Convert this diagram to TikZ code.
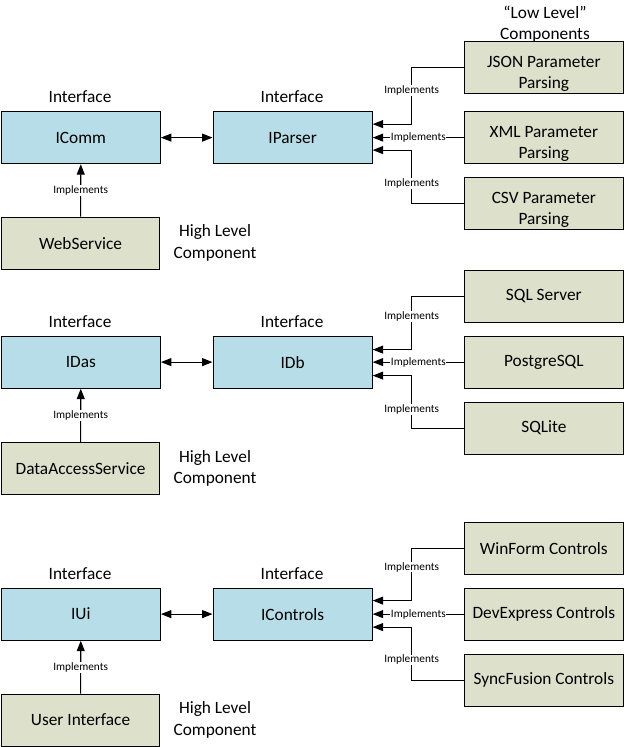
\documentclass[tikz,border=0pt]{standalone}
\usepackage{fontspec}
\setmainfont{Carlito}
\usetikzlibrary{arrows.meta}
\definecolor{ifblue}{RGB}{183,221,232}
\definecolor{compgreen}{RGB}{221,225,204}
\begin{document}
\begin{tikzpicture}[x=1pt,y=-1pt,
  base/.style={draw=black,line width=1.2pt,minimum height=52pt,anchor=north west,
    align=center,inner sep=2pt,font=\fontsize{17.3}{21.5}\selectfont},
  ibox/.style={base,fill=ifblue,minimum width=159pt},
  gbox/.style={base,fill=compgreen,minimum width=158.5pt},
  twoline/.style={text height=45pt},
  hdr/.style={align=center,inner sep=0pt,font=\fontsize{17.3}{21.5}\selectfont},
  lbl/.style={fill=white,inner sep=0.6pt,font=\fontsize{11.3}{13}\selectfont},
  imp/.style={line width=1.1pt,-{Triangle[length=10.5pt,width=8pt]}},
  bi/.style={line width=1.1pt,{Triangle[length=10.5pt,width=8pt]}-{Triangle[length=10.5pt,width=8pt]}}]
\useasboundingbox (0,0) rectangle (624,747);
% ---------- Section 1 ----------
\node[ibox] (icomm) at (0.7,111) {IComm};
\node[ibox] (iparser) at (212.5,111) {IParser};
\node[gbox] (web) at (0.7,216.5) {WebService};
\node[gbox,twoline] (json) at (464,41) {JSON Parameter\\Parsing};
\node[gbox,twoline] (xml) at (464,111) {XML Parameter\\Parsing};
\node[gbox,twoline] (csv) at (464,177) {CSV Parameter\\Parsing};
\node[hdr] (if1a) at (80,96.5) {Interface};
\node[hdr] (if1b) at (292,96.5) {Interface};
\node[hdr] (hl1) at (215,243) {High Level\\Component};
\node[hdr] (ll) at (545,24) {“Low Level”\\Components};
\draw[bi] (icomm.east) -- (iparser.west);
\draw[imp] (web.north) -- node[lbl]{Implements} (icomm.south);
\draw[imp] (json.west) -- ++(-52.3,0) |- node[lbl,pos=0.2]{Implements} ([yshift=13.5pt]iparser.east);
\draw[imp] (xml.west) -- node[lbl]{Implements} (iparser.east);
\draw[imp] (csv.west) -- ++(-52.3,0) |- node[lbl,pos=0.185]{Implements} ([yshift=-12.5pt]iparser.east);
% ---------- Section 2 ----------
\node[ibox] (idas) at (0.7,335.5) {IDas};
\node[ibox] (idb) at (212.5,335.5) {IDb};
\node[gbox] (das) at (0.7,442) {DataAccessService};
\node[gbox] (sqlsrv) at (464,269.5) {SQL Server};
\node[gbox] (pg) at (464,335.5) {PostgreSQL};
\node[gbox] (sqlite) at (464,401.5) {SQLite};
\node[hdr] (if2a) at (80,321.5) {Interface};
\node[hdr] (if2b) at (292,321.5) {Interface};
\node[hdr] (hl2) at (215,468.5) {High Level\\Component};
\draw[bi] (idas.east) -- (idb.west);
\draw[imp] (das.north) -- node[lbl]{Implements} (idas.south);
\draw[imp] (sqlsrv.west) -- ++(-52.3,0) |- node[lbl,pos=0.19]{Implements} ([yshift=12.5pt]idb.east);
\draw[imp] (pg.west) -- node[lbl]{Implements} (idb.east);
\draw[imp] (sqlite.west) -- ++(-52.3,0) |- node[lbl,pos=0.18]{Implements} ([yshift=-13.5pt]idb.east);
% ---------- Section 3 ----------
\node[ibox] (iui) at (0.7,587.5) {IUi};
\node[ibox] (ictl) at (212.5,587.5) {IControls};
\node[gbox] (ui) at (0.7,693.5) {User Interface};
\node[gbox] (winform) at (464,521.5) {WinForm Controls};
\node[gbox] (devx) at (464,587.5) {DevExpress Controls};
\node[gbox] (sync) at (464,653.5) {SyncFusion Controls};
\node[hdr] (if3a) at (80,573.5) {Interface};
\node[hdr] (if3b) at (292,573.5) {Interface};
\node[hdr] (hl3) at (215,720) {High Level\\Component};
\draw[bi] (iui.east) -- (ictl.west);
\draw[imp] (ui.north) -- node[lbl]{Implements} (iui.south);
\draw[imp] (winform.west) -- ++(-52.3,0) |- node[lbl,pos=0.18]{Implements} ([yshift=13.5pt]ictl.east);
\draw[imp] (devx.west) -- node[lbl]{Implements} (ictl.east);
\draw[imp] (sync.west) -- ++(-52.3,0) |- node[lbl,pos=0.19]{Implements} ([yshift=-13pt]ictl.east);
\end{tikzpicture}
\end{document}
